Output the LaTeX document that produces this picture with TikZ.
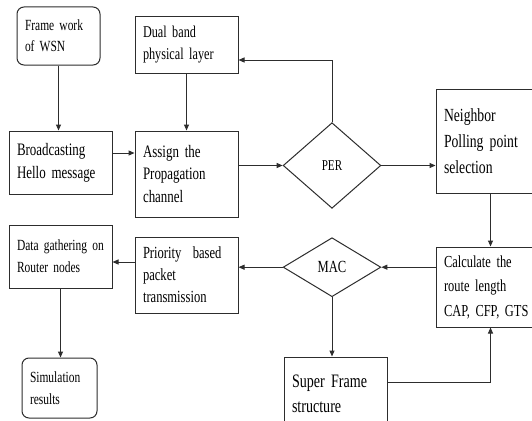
\documentclass[tikz,border=0pt]{standalone}
\usepackage{fontspec}
\setmainfont[FakeStretch=0.74]{Liberation Serif}
\usetikzlibrary{shapes.geometric,arrows.meta,calc}
\definecolor{lc}{RGB}{45,45,45}
\newcommand\fsz[2]{\fontsize{#1}{#2}\selectfont}
\begin{document}
\begin{tikzpicture}[x=1pt,y=-1pt,
  box/.style={draw=lc, line width=1pt, rectangle, inner xsep=8pt, inner ysep=0pt, align=left},
  rbox/.style={box, rounded corners=7pt},
  dia/.style={draw=lc, line width=1pt, diamond, inner sep=0pt, align=center},
  arr/.style={draw=lc, line width=1pt, -{Triangle[length=6pt,width=5pt]}}]
\useasboundingbox (0,0) rectangle (532,420);
\clip (0,0) rectangle (532,420);
\fill[white] (0,0) rectangle (532,420);

\node[rbox, text width=67pt, minimum height=58pt, font=\fsz{15.5}{21}] (frame) at (58.5,36) {Frame work\\of WSN};
\node[box, text width=87pt, minimum height=56pt, font=\fsz{16.5}{22}] (dual) at (186.5,45) {Dual band\\physical layer};
\node[box, text width=87pt, minimum height=63pt, font=\fsz{17.5}{23}] (bcast) at (60.5,162.5) {Broadcasting\\Hello message};
\node[box, text width=87pt, minimum height=86pt, font=\fsz{17.5}{22.5}] (assign) at (186.5,174) {Assign the\\Propagation\\channel};
\node[dia, minimum width=97.7pt, minimum height=85.6pt, font=\fsz{15}{18}] (per) at (332,165.5) {PER};
\node[box, text width=93pt, minimum height=104pt, font=\fsz{18.5}{26}] (neigh) at (490.5,141) {Neighbor\\Polling point\\selection};
\node[box, text width=93pt, minimum height=80pt, font=\fsz{16.8}{24.5}] (calc) at (490.5,287) {Calculate the\\route length\\CAP, CFP, GTS};
\node[dia, minimum width=97.7pt, minimum height=59pt, font=\fsz{17}{20}] (mac) at (332,267.2) {MAC};
\node[box, text width=87pt, minimum height=76pt, font=\fsz{17}{22}] (prio) at (186.5,275) {Priority\ \ based\\packet\\transmission};
\node[box, text width=87pt, minimum height=63pt, font=\fsz{15.5}{22}] (data) at (60.5,256.5) {Data gathering on\\Router nodes};
\node[rbox, text width=59pt, minimum height=60pt, font=\fsz{15.5}{22}] (sim) at (59.5,388) {Simulation\\results};
\node[box, text width=87pt, minimum height=73pt, font=\fsz{19}{25}] (super) at (335.5,393.5) {Super Frame\\structure};

\draw[arr] (frame.south) -- (frame.south |- bcast.north);
\draw[arr] (dual.south) -- (assign.north);
\draw[arr] ([yshift=9.5pt]bcast.east) -- ([yshift=9.5pt]bcast.east -| assign.west);
\draw[arr] (per.west -| assign.east) -- (per.west);
\draw[arr] (per.north) |- ([yshift=-15pt]dual.east);
\draw[arr] (per.east) -- (per.east -| neigh.west);
\draw[arr] (neigh.south) -- (calc.north);
\draw[arr] (mac.east -| calc.west) -- (mac.east);
\draw[arr] (mac.west) -- (mac.west -| prio.east);
\draw[arr] ([yshift=13pt]prio.west) -- ([yshift=13pt]prio.west -| data.east);
\draw[arr] (data.south) -- (data.south |- sim.north);
\draw[arr] (mac.south) -- (mac.south |- super.north);
\draw[arr] ([yshift=11.5pt]super.east) -| (calc.south);
\end{tikzpicture}
\end{document}
